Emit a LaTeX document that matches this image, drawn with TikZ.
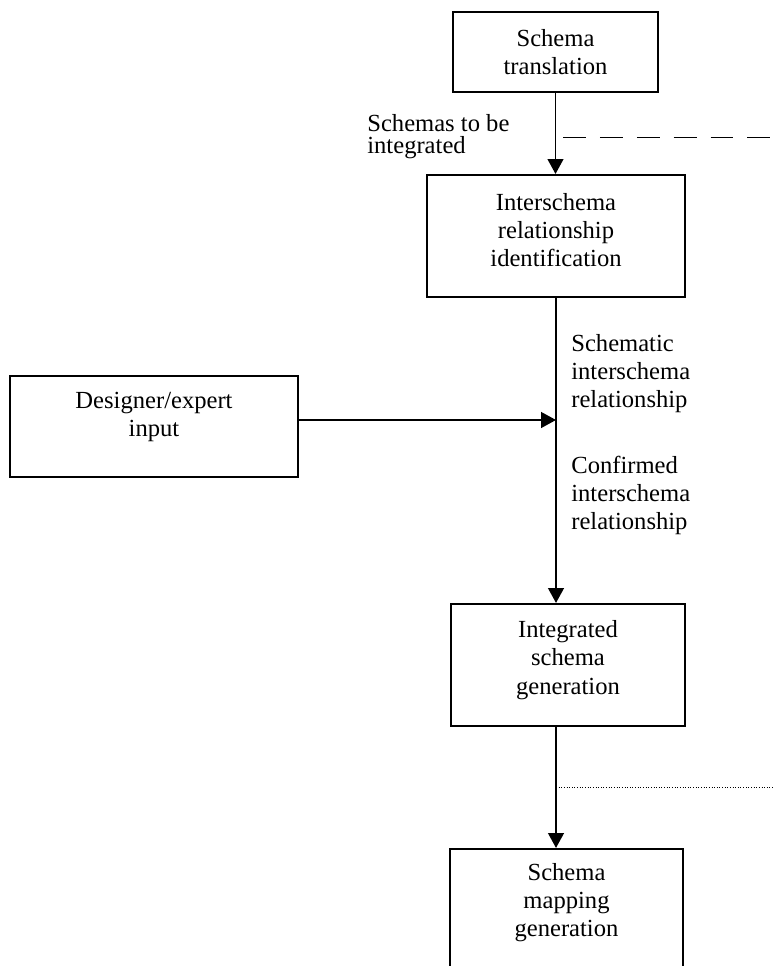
\documentclass[tikz,border=0pt]{standalone}
\usepackage{fontspec}
\setmainfont{Liberation Serif}
\usetikzlibrary{arrows.meta, positioning}

\begin{document}
\begin{tikzpicture}[x=0.02cm, y=-0.02cm,
every node/.style={font=\fontsize{14}{16}\selectfont},
box/.style={draw, line width=1.2pt, rectangle, align=center, inner sep=0pt},
lbl/.style={align=left, inner sep=0pt, anchor=north west},
arr/.style={line width=1pt, -{Triangle[length=8.5pt, width=9pt]}},
tapline/.style={line width=0.5pt, dash pattern=on 13pt off 8pt},
tapdots/.style={line width=0.5pt, densely dotted}]
\useasboundingbox (0,0) rectangle (774,966);
%================================================================
% Boxes
\node[style=box, minimum width=4.1cm, minimum height=1.6cm] (trans) at (555.5,52) {Schema\\translation};
\node[style=box, minimum width=5.16cm, minimum height=2.44cm, text depth=6.8pt] (ident) at (556,236) {Interschema\\relationship\\identification};
\node[style=box, minimum width=5.76cm, minimum height=2.02cm, text depth=13.8pt] (design) at (154,426.5) {Designer/expert\\input};
\node[style=box, minimum width=4.68cm, minimum height=2.44cm, text depth=8.7pt] (integ) at (568,665) {Integrated\\schema\\generation};
\node[style=box, minimum width=4.66cm, minimum height=2.44cm, text depth=11pt] (mapgen) at (566.5,910) {Schema\\mapping\\generation};

%================================================================
% Flow
\draw[arr] (trans.south) -- (trans.south |- ident.north);
\draw[arr] (ident.south) -- (ident.south |- integ.north);
\draw[arr] ([yshift=0.13cm]design.east) -- ([yshift=0.13cm]design.east -| ident.south);
\draw[arr] (integ.south -| ident.south) -- (ident.south |- mapgen.north);

% --------------------------------
% Taps to the right
\coordinate (tapA) at (563,137);
\coordinate (rimA) at (774,137);
\draw[style=tapline] (tapA) -- (rimA);
\coordinate (tapB) at (556,787);
\coordinate (rimB) at (774,787);
\draw[style=tapdots] (tapB) -- (rimB);

%================================================================
% Labels
\node[style=lbl, font=\fontsize{14}{12.5}\selectfont] (lblint) at (367,114) {Schemas to be\\integrated};
\node[style=lbl] (lblsch) at (571,334) {Schematic\\interschema\\relationship};
\node[style=lbl] (lblcon) at (571,456) {Confirmed\\interschema\\relationship};

%================================================================
\end{tikzpicture}
\end{document}
